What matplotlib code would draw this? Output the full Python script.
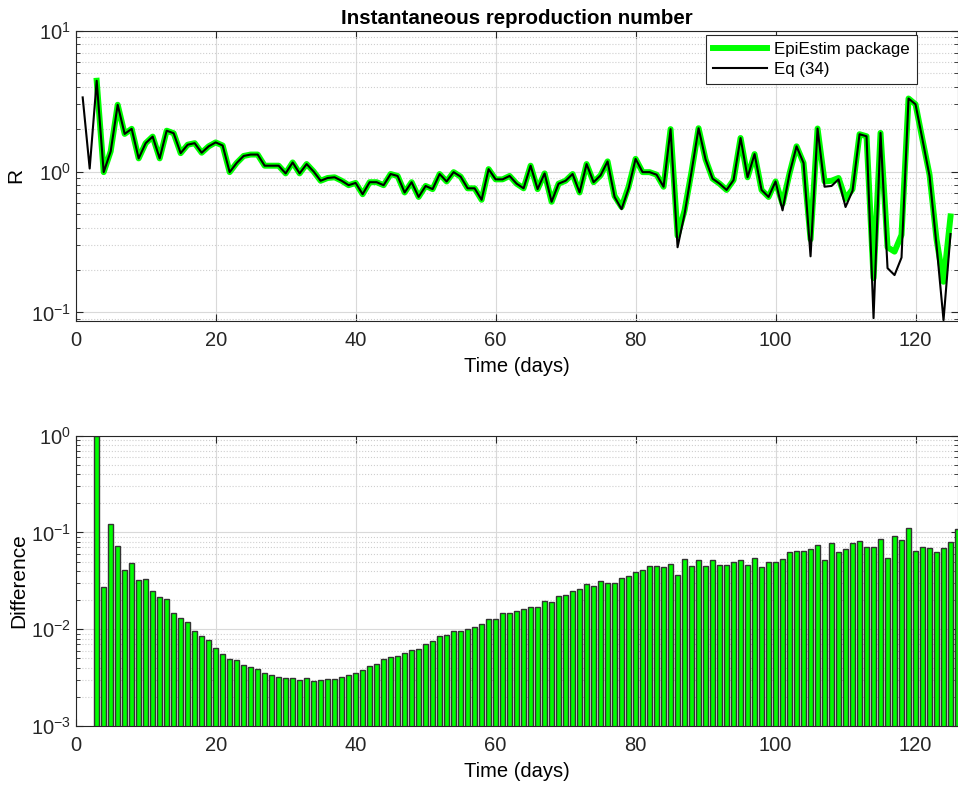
"""Instantaneous reproduction number: EpiEstim vs Eq (34), and their difference."""

import matplotlib

matplotlib.use("Agg")

import matplotlib.pyplot as plt
import numpy as np

plt.rcParams["font.family"] = ["Liberation Sans", "DejaVu Sans"]
plt.rcParams["mathtext.fontset"] = "custom"
plt.rcParams["mathtext.rm"] = "Liberation Sans"
plt.rcParams["axes.unicode_minus"] = False

# Eq (34), days 1..125
eq34_days = list(range(1, 126))
eq34_r = [
    3.36, 1.05, 4.41, 0.99, 1.39, 2.98, 1.85, 2.01, 1.24, 1.59,
    1.77, 1.24, 1.95, 1.87, 1.35, 1.55, 1.59, 1.36, 1.51, 1.61,
    1.53, 0.99, 1.15, 1.29, 1.32, 1.32, 1.10, 1.10, 1.10, 0.97,
    1.16, 0.97, 1.13, 1.00, 0.86, 0.90, 0.91, 0.86, 0.80, 0.83,
    0.69, 0.84, 0.84, 0.80, 0.96, 0.93, 0.71, 0.84, 0.66, 0.79,
    0.75, 0.96, 0.85, 0.99, 0.92, 0.76, 0.76, 0.63, 1.04, 0.88,
    0.88, 0.93, 0.82, 0.76, 1.10, 0.75, 0.97, 0.61, 0.82, 0.86,
    0.96, 0.71, 1.13, 0.84, 0.94, 1.18, 0.66, 0.54, 0.76, 1.23,
    0.99, 0.99, 0.95, 0.78, 2.00, 0.29, 0.50, 1.00, 2.03, 1.22,
    0.89, 0.82, 0.74, 0.87, 1.73, 0.91, 1.33, 0.74, 0.66, 0.85,
    0.53, 0.97, 1.51, 1.15, 0.25, 2.02, 0.78, 0.79, 0.88, 0.56,
    0.73, 1.84, 1.78, 0.091, 1.88, 0.206, 0.184, 0.245, 3.30, 3.00,
    1.68, 0.93, 0.30, 0.088, 0.36,
]

# EpiEstim package, days 3..125
epi_days = list(range(3, 126))
epi_r = [
    4.41, 0.99, 1.39, 2.98, 1.85, 2.01, 1.24, 1.59,
    1.77, 1.24, 1.95, 1.87, 1.35, 1.55, 1.59, 1.36, 1.51, 1.61,
    1.53, 0.99, 1.15, 1.29, 1.32, 1.32, 1.10, 1.10, 1.10, 0.97,
    1.16, 0.97, 1.13, 1.00, 0.86, 0.90, 0.91, 0.86, 0.80, 0.83,
    0.69, 0.84, 0.84, 0.80, 0.96, 0.93, 0.71, 0.84, 0.66, 0.79,
    0.75, 0.96, 0.85, 0.99, 0.92, 0.76, 0.76, 0.63, 1.04, 0.88,
    0.88, 0.93, 0.82, 0.76, 1.10, 0.75, 0.97, 0.61, 0.82, 0.86,
    0.96, 0.71, 1.13, 0.84, 0.94, 1.18, 0.67, 0.56, 0.78, 1.23,
    0.99, 0.99, 0.95, 0.78, 2.00, 0.35, 0.53, 1.00, 2.03, 1.22,
    0.89, 0.82, 0.74, 0.87, 1.73, 0.91, 1.33, 0.74, 0.66, 0.85,
    0.59, 0.97, 1.51, 1.15, 0.33, 2.02, 0.85, 0.86, 0.90, 0.64,
    0.75, 1.84, 1.78, 0.175, 1.88, 0.29, 0.27, 0.355, 3.30, 3.00,
    1.68, 0.95, 0.33, 0.165, 0.48,
]

# Difference, days 3..126
diff_days = list(range(3, 127))
diff_vals = [
    1.0, 0.0271, 0.123, 0.073, 0.0412, 0.048, 0.0325, 0.0327,
    0.025, 0.0215, 0.0207, 0.0147, 0.0131, 0.0119, 0.0095, 0.00845, 0.00768, 0.0064,
    0.00555, 0.00492, 0.00481, 0.00427, 0.0041, 0.00385, 0.0035, 0.00339, 0.00321, 0.00313,
    0.00313, 0.00299, 0.0031, 0.00292, 0.00299, 0.00303, 0.00305, 0.00319, 0.00337, 0.00353,
    0.0038, 0.00417, 0.00437, 0.00489, 0.00516, 0.00529, 0.00564, 0.00606, 0.00625, 0.00704,
    0.0075, 0.00845, 0.00873, 0.0096, 0.0096, 0.0100, 0.0106, 0.0112, 0.0127, 0.0128,
    0.0146, 0.0148, 0.0153, 0.0163, 0.0171, 0.0171, 0.0196, 0.0190, 0.0221, 0.0224,
    0.025, 0.026, 0.0291, 0.0277, 0.0313, 0.0303, 0.0303, 0.0341, 0.0352, 0.039,
    0.0412, 0.0454, 0.0445, 0.0436, 0.0475, 0.036, 0.0528, 0.0447, 0.0516, 0.0455,
    0.0516, 0.0457, 0.0457, 0.0495, 0.0519, 0.046, 0.054, 0.0436, 0.0495, 0.0495,
    0.0528, 0.0633, 0.0643, 0.0643, 0.068, 0.0747, 0.0516, 0.0773, 0.0633, 0.067,
    0.0778, 0.0816, 0.0713, 0.0708, 0.0857, 0.0548, 0.0927, 0.083, 0.111, 0.0638,
    0.0713, 0.069, 0.0624, 0.069, 0.0797, 0.109,
]

GREEN = "#00ff00"
AXIS_COLOR = "#262626"


def style_axes(ax):
    ax.set_xlim(0, 126)
    ax.set_xticks(np.arange(0, 121, 20))
    ax.tick_params(which="both", direction="in", top=True, right=True,
                   colors=AXIS_COLOR, labelsize=14.5)
    ax.tick_params(which="major", length=5, width=0.8)
    ax.tick_params(which="minor", length=3, width=0.6)
    ax.tick_params(axis="x", which="major", pad=7)
    ax.tick_params(axis="x", which="minor", bottom=False, top=False)
    for spine in ax.spines.values():
        spine.set_color(AXIS_COLOR)
        spine.set_linewidth(0.8)
    ax.grid(which="major", color="#d9d9d9", linewidth=0.8)
    ax.yaxis.grid(which="minor", color="#cfcfcf", linestyle=":", linewidth=0.8)
    ax.set_axisbelow(True)
    ax.set_xlabel("Time (days)", fontsize=14.5, labelpad=5)


fig = plt.figure(figsize=(9.58, 7.87), dpi=100)
ax1 = fig.add_axes([0.079, 0.592, 0.9205, 0.369])
ax2 = fig.add_axes([0.079, 0.0775, 0.9205, 0.369])

ax1.plot(epi_days, epi_r, color=GREEN, linewidth=4.3, label="EpiEstim package")
ax1.plot(eq34_days, eq34_r, color="black", linewidth=1.5, label="Eq (34)")
ax1.set_yscale("log")
ax1.set_ylim(0.0867, 10)
style_axes(ax1)
ax1.set_ylabel("R", fontsize=15, labelpad=4)
ax1.set_title("Instantaneous reproduction number", fontsize=14.8,
              fontweight="bold", pad=5)
leg = ax1.legend(loc="upper right", bbox_to_anchor=(0.9535, 0.985),
                 borderaxespad=0, fontsize=12.2, frameon=True, fancybox=False,
                 edgecolor=AXIS_COLOR, framealpha=1, handlelength=3.2,
                 borderpad=0.4, labelspacing=0.3, handletextpad=0.4)
leg.get_frame().set_linewidth(0.8)

ax2.bar(diff_days, diff_vals, width=0.8, color=GREEN, edgecolor="#333333",
        linewidth=1.0)
ax2.set_yscale("log")
ax2.set_ylim(1e-3, 1)
style_axes(ax2)
ax2.set_ylabel("Difference", fontsize=15, labelpad=2)

fig.savefig("out.png", dpi=100)
